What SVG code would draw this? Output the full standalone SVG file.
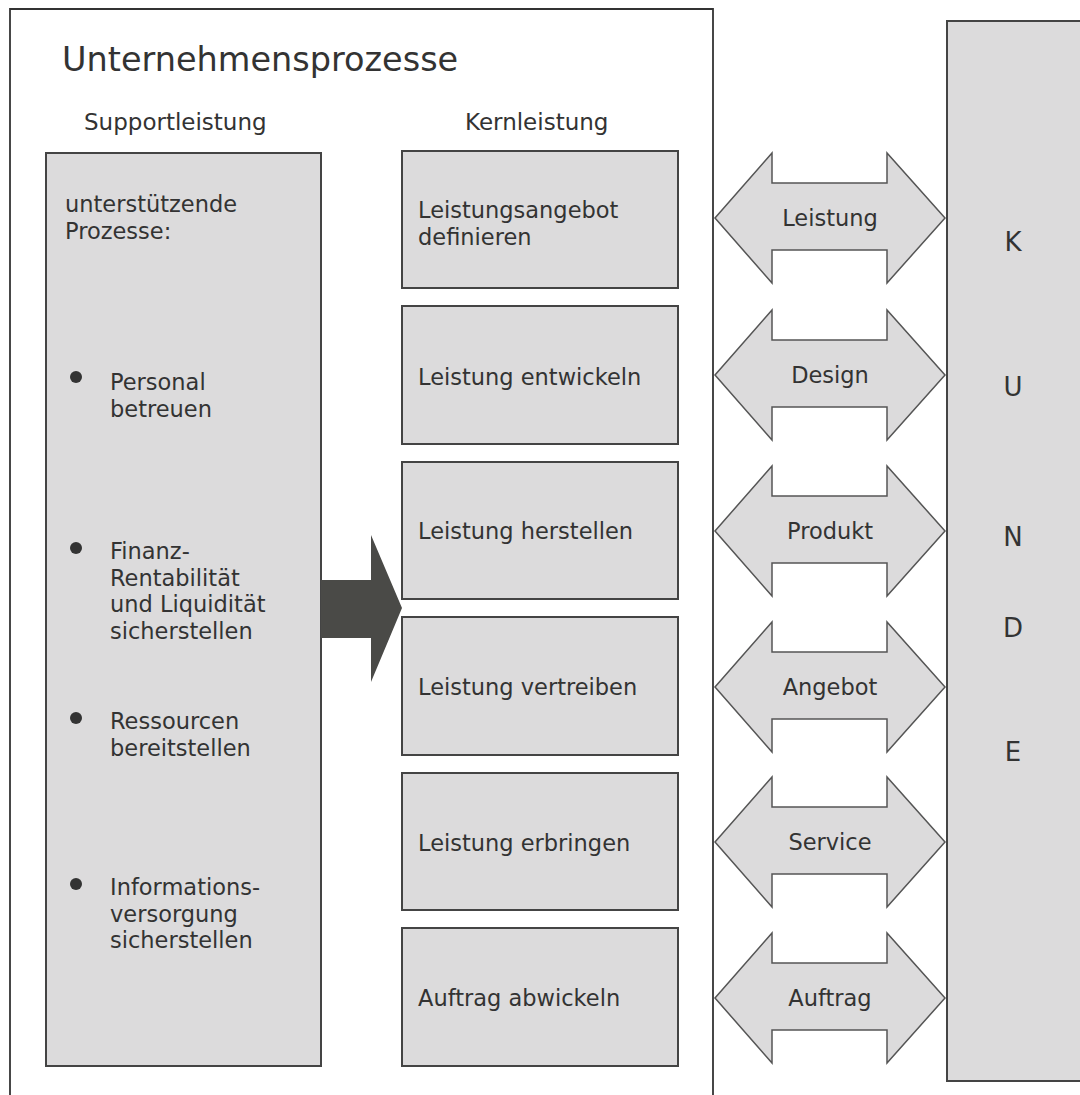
<svg xmlns="http://www.w3.org/2000/svg" width="1080" height="1095" viewBox="0 0 1080 1095">
<defs>
<style>
text{font-family:"DejaVu Sans","Open Sans","Liberation Sans",sans-serif;fill:#333;}
.box{fill:#dcdbdc;stroke:#444;stroke-width:2;}
.dbl{fill:#dcdbdc;stroke:#555;stroke-width:1.5;stroke-linejoin:miter;}
.t{font-size:22.5px;}
.h2{font-size:23px;}
.al{font-size:22.5px;text-anchor:middle;}
.k{font-size:26px;text-anchor:middle;}
</style>
<path id="dblArrow" d="M-115,0 L-58,-65 L-58,-35 L57,-35 L57,-65 L115,0 L57,65 L57,32 L-58,32 L-58,65 Z"/>
</defs>
<rect width="1080" height="1095" fill="#fff"/>
<g id="frame">
<path d="M10,1095 L10,9 L713,9 L713,1095" fill="none" stroke="#333" stroke-width="1.8"/>
<text x="62" y="71" font-size="33.5">Unternehmensprozesse</text>
<text x="84" y="130" class="h2">Supportleistung</text>
<text x="465" y="130" class="h2">Kernleistung</text>
</g>
<g id="support">
<rect class="box" x="46" y="153" width="275" height="913"/>
<text class="t" x="65" y="212">unterstützende</text>
<text class="t" x="65" y="238.5">Prozesse:</text>
<circle cx="76" cy="377" r="6" fill="#333"/>
<text class="t" x="110" y="390">Personal</text>
<text class="t" x="110" y="416.5">betreuen</text>
<circle cx="76" cy="548" r="6" fill="#333"/>
<text class="t" x="110" y="559">Finanz-</text>
<text class="t" x="110" y="585.5">Rentabilität</text>
<text class="t" x="110" y="612">und Liquidität</text>
<text class="t" x="110" y="638.5">sicherstellen</text>
<circle cx="76" cy="718" r="6" fill="#333"/>
<text class="t" x="110" y="729">Ressourcen</text>
<text class="t" x="110" y="755.5">bereitstellen</text>
<circle cx="76" cy="884" r="6" fill="#333"/>
<text class="t" x="110" y="895">Informations-</text>
<text class="t" x="110" y="921.5">versorgung</text>
<text class="t" x="110" y="948">sicherstellen</text>
</g>
<g id="kern1"><rect class="box" x="402" y="151" width="276" height="137"/><text class="t" x="418" y="218">Leistungsangebot</text><text class="t" x="418" y="244.5">definieren</text></g>
<g id="kern2"><rect class="box" x="402" y="306" width="276" height="138"/><text class="t" x="418" y="385">Leistung entwickeln</text></g>
<g id="kern3"><rect class="box" x="402" y="462" width="276" height="137"/><text class="t" x="418" y="539">Leistung herstellen</text></g>
<g id="kern4"><rect class="box" x="402" y="617" width="276" height="138"/><text class="t" x="418" y="695">Leistung vertreiben</text></g>
<g id="kern5"><rect class="box" x="402" y="773" width="276" height="137"/><text class="t" x="418" y="851">Leistung erbringen</text></g>
<g id="kern6"><rect class="box" x="402" y="928" width="276" height="138"/><text class="t" x="418" y="1006">Auftrag abwickeln</text></g>
<g id="kunde">
<rect class="box" x="947" y="21" width="140" height="1060"/>
<text class="k" x="1013" y="251">K</text>
<text class="k" x="1013" y="396">U</text>
<text class="k" x="1013" y="546">N</text>
<text class="k" x="1013" y="637">D</text>
<text class="k" x="1013" y="761">E</text>
</g>
<g id="connectors">
<path d="M321,580 L371,580 L371,535 L402,608 L371,682 L371,638 L321,638 Z" fill="#4a4a47"/>
<g id="a1"><use href="#dblArrow" class="dbl" transform="translate(830,218)"/><text class="al" x="830" y="226">Leistung</text></g>
<g id="a2"><use href="#dblArrow" class="dbl" transform="translate(830,375)"/><text class="al" x="830" y="383">Design</text></g>
<g id="a3"><use href="#dblArrow" class="dbl" transform="translate(830,531)"/><text class="al" x="830" y="539">Produkt</text></g>
<g id="a4"><use href="#dblArrow" class="dbl" transform="translate(830,687)"/><text class="al" x="830" y="695">Angebot</text></g>
<g id="a5"><use href="#dblArrow" class="dbl" transform="translate(830,842)"/><text class="al" x="830" y="850">Service</text></g>
<g id="a6"><use href="#dblArrow" class="dbl" transform="translate(830,998)"/><text class="al" x="830" y="1006">Auftrag</text></g>
</g>
</svg>
